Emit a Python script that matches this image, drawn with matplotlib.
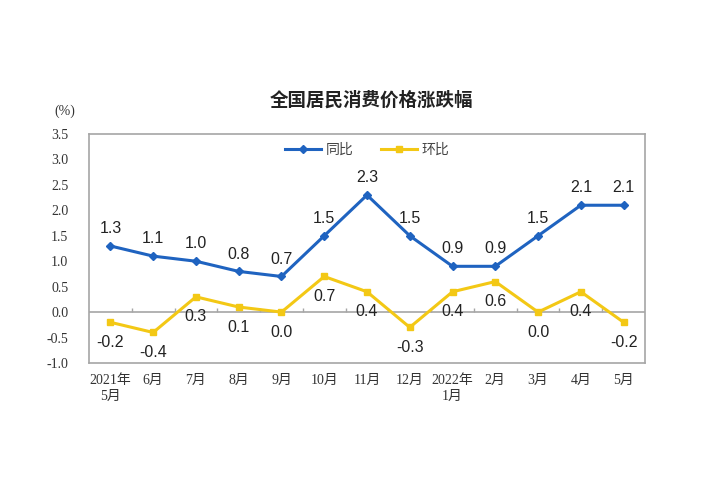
import matplotlib
matplotlib.use("Agg")
import matplotlib.pyplot as plt
import numpy as np

categories = ["2021年\n5月", "6月", "7月", "8月", "9月", "10月", "11月", "12月",
              "2022年\n1月", "2月", "3月", "4月", "5月"]
yoy = [1.3, 1.1, 1.0, 0.8, 0.7, 1.5, 2.3, 1.5, 0.9, 0.9, 1.5, 2.1, 2.1]
mom = [-0.2, -0.4, 0.3, 0.1, 0.0, 0.7, 0.4, -0.3, 0.4, 0.6, 0.0, 0.4, -0.2]
yticks = [3.5, 3.0, 2.5, 2.0, 1.5, 1.0, 0.5, 0.0, -0.5, -1.0]
title = "全国居民消费价格涨跌幅"
series_names = ["同比", "环比"]

BLUE = "#1F63C0"
YELLOW = "#F3C815"
GRAY = "#A6A6A6"
CJK = ["Noto Sans CJK SC", "DejaVu Sans"]
SERIF = ["Liberation Serif", "Noto Sans CJK SC"]
SANS = ["Liberation Sans", "DejaVu Sans"]

fig = plt.figure(figsize=(7.04, 4.78), dpi=100)
ax = fig.add_axes([89/704, 1-363/478, (645-89)/704, (363-134)/478])

x = np.arange(len(categories))
ax.plot(x, yoy, color=BLUE, lw=2.2, marker="D", ms=4.5, label=series_names[0], zorder=3)
ax.plot(x, mom, color=YELLOW, lw=2.2, marker="s", ms=4.5, label=series_names[1], zorder=3)

for xi, v in zip(x, yoy):
    ax.annotate(f"{v:.1f}", (xi, v), xytext=(0, 12.5), textcoords="offset points",
                ha="center", va="center", fontsize=11.5, family=SANS, color="#222222")
for xi, v in zip(x, mom):
    ax.annotate(f"{v:.1f}", (xi, v), xytext=(0, -14.5), textcoords="offset points",
                ha="center", va="center", fontsize=11.5, family=SANS, color="#222222")

ax.set_xlim(-0.5, len(categories) - 0.5)
ax.set_ylim(-1.0, 3.5)
ax.set_yticks(yticks)
ax.set_yticklabels([f"{t:.1f}" for t in yticks], family=SERIF, fontsize=10, color="#333333")
ax.set_xticks(x)
ax.set_xticklabels(categories, family=SERIF, fontsize=10, color="#333333", linespacing=1.3)
ax.tick_params(axis="both", length=0)
ax.tick_params(axis="y", pad=15)
ax.tick_params(axis="x", pad=8)

for s in ax.spines.values():
    s.set_color(GRAY)
    s.set_linewidth(1.2)

ax.axhline(0, color=GRAY, lw=1.2, zorder=1)
ax.vlines(x[:-1] + 0.5, 0, 0.08, color=GRAY, lw=1.0, zorder=1)

leg = ax.legend(loc="center", bbox_to_anchor=(0.5, 0.93), ncol=2, frameon=False,
                prop={"family": CJK, "size": 10}, handlelength=2.6, columnspacing=2.0,
                handletextpad=0.3)
for t in leg.get_texts():
    t.set_color("#444444")

fig.text(0.528, 1-100/478, title, ha="center", va="center", fontsize=13.3,
         family=CJK, fontweight="bold", color="#222222")
fig.text(65/704, 1-111/478, "(%)", ha="center", va="center", fontsize=10,
         family=SERIF, color="#333333")

fig.savefig("out.png", dpi=100, facecolor="white")
